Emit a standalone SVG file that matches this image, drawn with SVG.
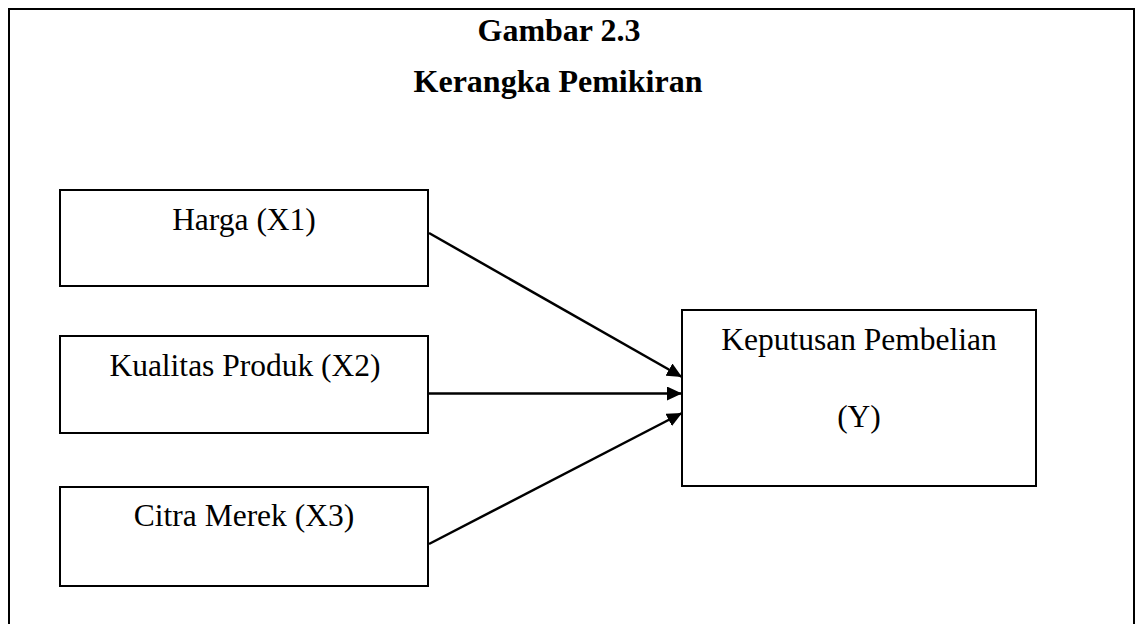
<svg xmlns="http://www.w3.org/2000/svg" width="1135" height="624" viewBox="0 0 1135 624">
<style>
.box{fill:#fff;stroke:#000;stroke-width:2}
.t{font-family:"Liberation Serif","Times New Roman",serif;font-size:31.5px;fill:#000;text-anchor:middle}
.h{font-family:"Liberation Serif","Times New Roman",serif;font-size:32px;font-weight:bold;fill:#000;text-anchor:middle}
.c{stroke:#000;stroke-width:2.5;fill:none;marker-end:url(#ah)}
</style>
<defs>
<marker id="ah" markerUnits="userSpaceOnUse" markerWidth="16" markerHeight="14" refX="15" refY="7" orient="auto">
<path d="M0,0 L15,7 L0,14 z" fill="#000"/>
</marker>
</defs>
<rect width="1135" height="624" fill="#fff"/>
<rect x="9" y="9" width="1125" height="625" fill="none" stroke="#000" stroke-width="2"/>
<g id="title">
<text class="h" x="559" y="41">Gambar 2.3</text>
<text class="h" x="558" y="92">Kerangka Pemikiran</text>
</g>
<g id="x1">
<rect class="box" x="60" y="190" width="368" height="96"/>
<text class="t" x="244" y="230">Harga (X1)</text>
</g>
<g id="x2">
<rect class="box" x="60" y="336" width="368" height="97"/>
<text class="t" x="245" y="376">Kualitas Produk (X2)</text>
</g>
<g id="x3">
<rect class="box" x="60" y="487" width="368" height="99"/>
<text class="t" x="244" y="526">Citra Merek (X3)</text>
</g>
<g id="y">
<rect class="box" x="682" y="310" width="354" height="176"/>
<text class="t" x="859" y="350">Keputusan Pembelian</text>
<text class="t" x="859" y="427">(Y)</text>
</g>
<g id="connectors">
<line class="c" x1="429" y1="233" x2="682" y2="377"/>
<line class="c" x1="429" y1="393.5" x2="682" y2="393.5"/>
<line class="c" x1="429" y1="544" x2="682" y2="413"/>
</g>
</svg>
